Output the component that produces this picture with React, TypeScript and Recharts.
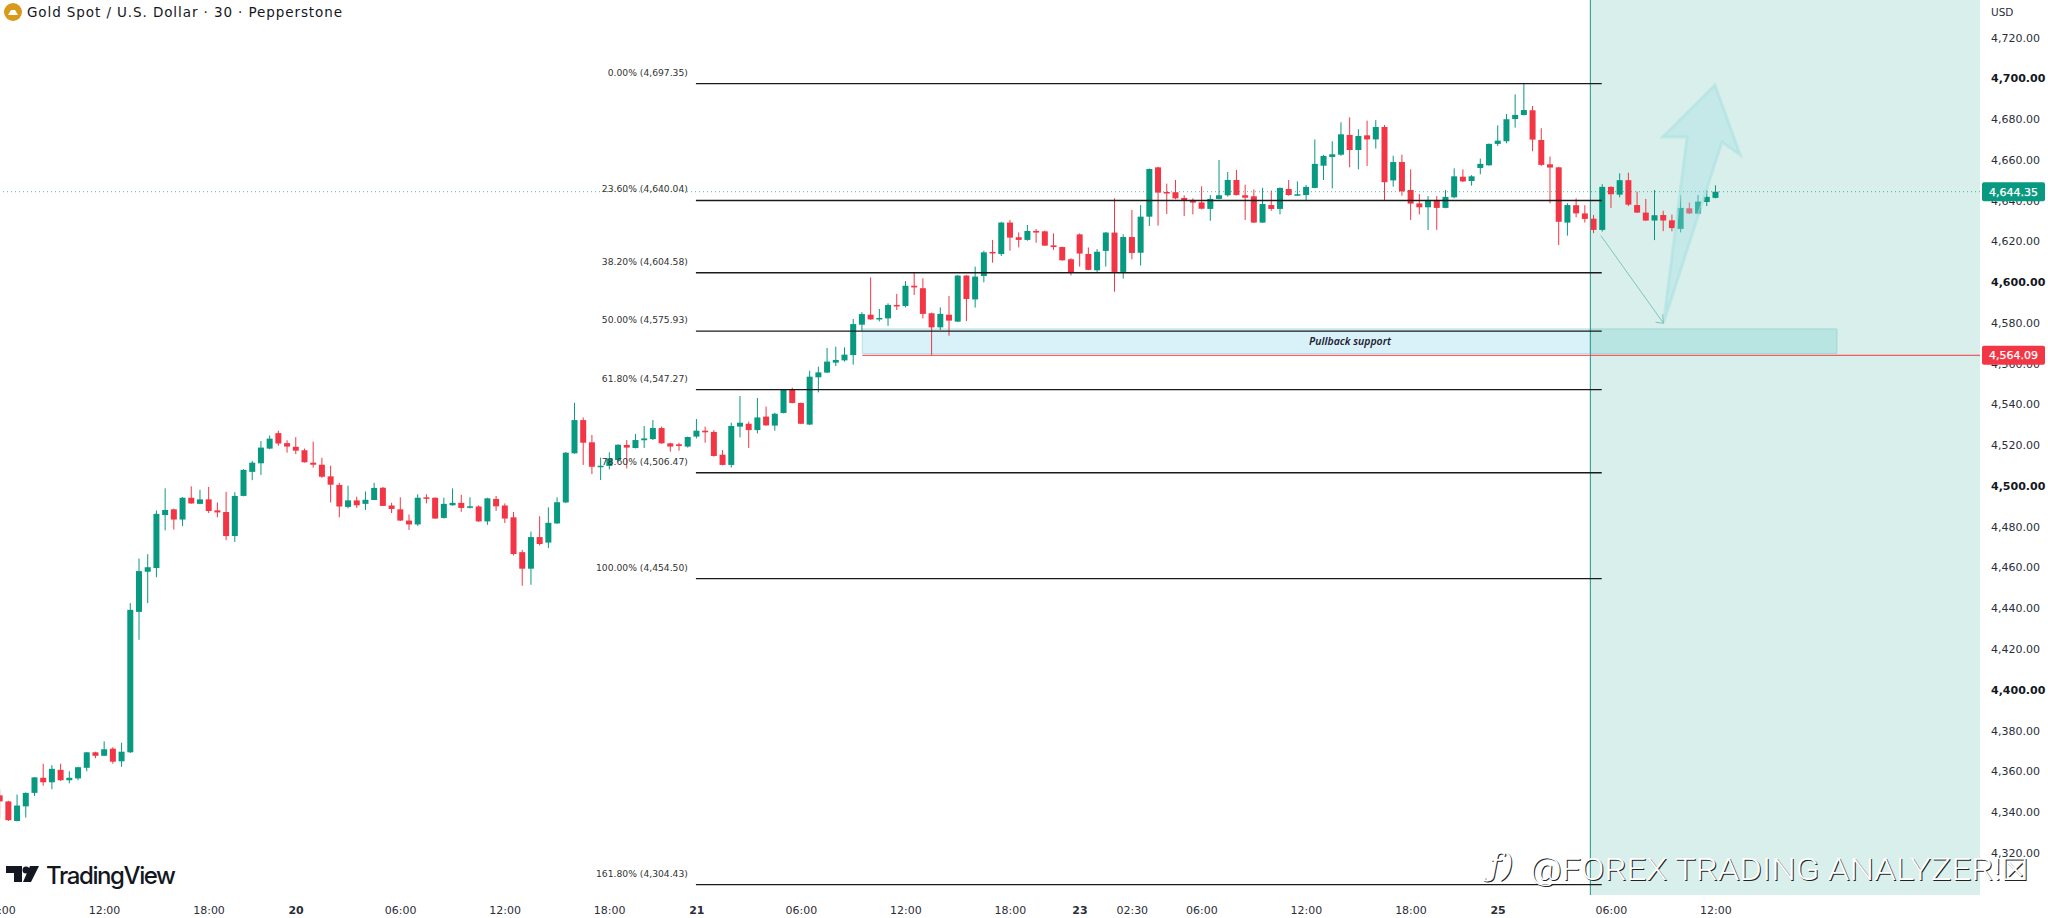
import {
  Bar,
  ComposedChart,
  ReferenceArea,
  ReferenceDot,
  ReferenceLine,
  XAxis,
  YAxis,
} from "recharts";

const opens = [
  4348.2, 4345.2, 4335.6, 4342.8, 4349.4, 4356.8, 4354.6, 4360.7, 4355.6, 4356.5,
  4361.7, 4369.3, 4367.6, 4371.1, 4364.9, 4369.3, 4438.2, 4457.9, 4459.7, 4485.7,
  4488.5, 4483.5, 4494.2, 4491.2, 4493.4, 4488, 4487.2, 4475.4, 4495.1, 4506.9,
  4511.1, 4518.3, 4525.9, 4521, 4519.2, 4517.5, 4511.4, 4510.4, 4504.7, 4500.5,
  4489.7, 4492.9, 4491.2, 4493.1, 4499.1, 4490.4, 4488.5, 4483, 4481.1, 4494.4,
  4494.2, 4484.3, 4490.5, 4491.7, 4489.5, 4489.9, 4482.6, 4493.6, 4490.4, 4484.6,
  4467.5, 4459.4, 4474.9, 4472.2, 4481.6, 4491.9, 4516, 4532.3, 4521.4, 4509.4,
  4509.8, 4512.7, 4520.1, 4518.6, 4522.4, 4523, 4528.4, 4520.9, 4520.4, 4519.3,
  4524.2, 4527.1, 4526.5, 4515.3, 4510.3, 4529.1, 4530.5, 4527.4, 4534, 4529.6,
  4535.8, 4547.2, 4540.7, 4530.1, 4553.3, 4555.6, 4560.5, 4561.6, 4564.2, 4579.1,
  4584, 4581.7, 4582.2, 4588.8, 4588.3, 4598.2, 4597, 4584.7, 4577.8, 4584,
  4580.6, 4603.2, 4591.5, 4603, 4614.8, 4613.8, 4629.2, 4622, 4620.7, 4625.1,
  4624.9, 4618, 4617.2, 4611.2, 4623.4, 4613.8, 4605.8, 4615.3, 4624.3, 4605,
  4622.1, 4614.4, 4632.1, 4656.3, 4644.2, 4644.1, 4641.3, 4640.3, 4639.1, 4635.9,
  4640.8, 4642.6, 4650.1, 4642.6, 4642.1, 4629.2, 4637.8, 4635.9, 4645.7, 4642.7,
  4642.7, 4646.2, 4657.1, 4661.4, 4662.5, 4672.2, 4664.8, 4672, 4670, 4676.1,
  4649.9, 4658.9, 4645.2, 4638.6, 4636.7, 4640.3, 4636.4, 4641.6, 4651.7, 4649.6,
  4656, 4657.3, 4667.8, 4669.1, 4680, 4682, 4684.3, 4669.7, 4657.8, 4656.3,
  4629.2, 4637.7, 4633.7, 4631.1, 4625.6, 4646.7, 4642.9, 4650, 4637.8, 4634.1,
  4630.2, 4632.9, 4630.3, 4626.1, 4636.2, 4633.6, 4639.3, 4641.3,
];

const highs = [
  4351.2, 4345.5, 4348.6, 4349.6, 4357.2, 4363.7, 4363, 4363.7, 4360, 4362.2,
  4369.5, 4369.6, 4374.7, 4371.8, 4374, 4442.5, 4464.4, 4466.5, 4488, 4498.8,
  4488.9, 4494.5, 4499.8, 4498.1, 4499.5, 4491.9, 4497.1, 4496.9, 4508.2, 4512.3,
  4522, 4524.7, 4527.1, 4522.4, 4523.9, 4518.3, 4521.7, 4513.8, 4509.9, 4501.5,
  4500.1, 4494.7, 4497.3, 4501.5, 4499.5, 4491.7, 4494.4, 4486, 4495.9, 4495.9,
  4494.4, 4494.2, 4498.8, 4495.6, 4494.4, 4490.5, 4494.2, 4495.1, 4491.4, 4487.2,
  4468.6, 4477.6, 4485.1, 4489.5, 4494.4, 4516.6, 4540.8, 4533.6, 4525, 4513.9,
  4516.5, 4520.4, 4522.5, 4525.5, 4529.4, 4532.3, 4529.1, 4521.2, 4521.2, 4524.2,
  4532.8, 4529.1, 4527.4, 4517.6, 4531, 4544.1, 4531.5, 4543.1, 4538.9, 4535.9,
  4547.4, 4548.2, 4540.9, 4556.5, 4558.5, 4567.7, 4568.3, 4568, 4581.9, 4585.2,
  4602.3, 4586.8, 4589.6, 4594.2, 4600.5, 4604.8, 4601.8, 4585, 4587.6, 4593.2,
  4603.4, 4603.5, 4607.6, 4615.4, 4620.7, 4629.6, 4630.5, 4624.4, 4628, 4626,
  4625.3, 4623.9, 4617.4, 4611.7, 4623.9, 4617, 4616.2, 4624.6, 4641.1, 4623.4,
  4635.4, 4637.8, 4655.7, 4656.6, 4648.3, 4650.1, 4642.6, 4641.1, 4647, 4642.7,
  4659.9, 4654, 4655, 4647.8, 4645.5, 4646.3, 4644.9, 4646.4, 4650.1, 4649.4,
  4647.6, 4670, 4662.4, 4669.1, 4678.4, 4680.8, 4675, 4679.2, 4679.5, 4677.1,
  4662, 4662.5, 4655.3, 4643.2, 4642.2, 4642.2, 4645.2, 4655.8, 4655.3, 4652.5,
  4660.6, 4668, 4676.9, 4682.5, 4692.1, 4697.2, 4686.4, 4675.5, 4661.6, 4656.6,
  4638.7, 4641.1, 4637.7, 4632.9, 4648, 4647, 4653.4, 4653.7, 4644.4, 4640.8,
  4645.2, 4635, 4633.1, 4642.7, 4639, 4642.7, 4645.2, 4647.5,
];

const lows = [
  4336.8, 4335.6, 4335.4, 4337.3, 4347.9, 4352.9, 4351.2, 4355.3, 4354.1, 4355.6,
  4360, 4366.4, 4367.4, 4363.7, 4362.2, 4369, 4424.5, 4442.5, 4455.2, 4478.2,
  4478.6, 4480.3, 4491.2, 4491, 4486.7, 4484.6, 4473.4, 4472.5, 4494.9, 4502.8,
  4505.4, 4518, 4519.7, 4516.3, 4515.6, 4511.4, 4509, 4504, 4491.9, 4484.6,
  4489, 4489.2, 4488.2, 4493, 4490.1, 4486.7, 4482.8, 4478.4, 4480.4, 4491.4,
  4483.8, 4484, 4490.3, 4487.3, 4488.9, 4482.4, 4480.9, 4487.7, 4481.8, 4465.9,
  4451, 4451.5, 4470.8, 4469.5, 4481.4, 4491.6, 4515.8, 4510.3, 4505.8, 4502.9,
  4508.1, 4512.5, 4508.6, 4518.4, 4518.6, 4522.5, 4520.7, 4516.8, 4517.3, 4518.8,
  4523.3, 4521.2, 4514.4, 4510.1, 4509, 4523.8, 4518.6, 4525.8, 4529.5, 4527.1,
  4535.6, 4540.5, 4530.3, 4529.9, 4545.9, 4555.4, 4558.8, 4561, 4559.5, 4576.2,
  4581.5, 4580.7, 4578.5, 4586.3, 4587.6, 4593.7, 4582.2, 4564.2, 4576.5, 4573.7,
  4580.4, 4580.9, 4587.5, 4599.9, 4609.5, 4612.8, 4615.4, 4617, 4620.3, 4619.3,
  4617.7, 4615.8, 4610.5, 4603.3, 4607.6, 4605.8, 4605, 4607.6, 4595.3, 4601.7,
  4611.2, 4608.1, 4627.5, 4627.7, 4633.4, 4640.6, 4632.4, 4633.2, 4635.7, 4630.1,
  4640.6, 4641.9, 4642.5, 4630.5, 4629, 4629, 4635, 4633.2, 4642.4, 4642.4,
  4640, 4646, 4650.1, 4646, 4661.9, 4656.3, 4655.3, 4657, 4665.5, 4640,
  4646.8, 4642.4, 4630.5, 4633.2, 4625.6, 4625.6, 4636.2, 4641.1, 4649.1, 4647.3,
  4652.9, 4657.1, 4666.8, 4668.1, 4675.8, 4681.8, 4664.2, 4657, 4638.7, 4618.2,
  4622.8, 4631.8, 4629.2, 4624, 4624.8, 4636.4, 4641.6, 4637.3, 4633.9, 4630,
  4620.6, 4625, 4624.9, 4624.4, 4633.4, 4633.2, 4637.3, 4641.1,
];

const closes = [
  4345.2, 4336, 4343.2, 4349.4, 4357, 4354.6, 4361.2, 4355.6, 4356.8, 4362,
  4369.3, 4367.6, 4370.8, 4364.7, 4369.6, 4439.2, 4458.2, 4460.1, 4486.3, 4488.2,
  4483.5, 4494.2, 4491.4, 4493.4, 4487.7, 4487, 4475.4, 4495.1, 4507.9, 4511.4,
  4518.8, 4523.2, 4520.8, 4519.3, 4517.3, 4511.6, 4510.4, 4504.5, 4500.6, 4489.9,
  4492.9, 4490.5, 4493.2, 4499, 4490.2, 4488.7, 4483, 4481.1, 4494.2, 4493.9,
  4484, 4491.2, 4491.7, 4489.2, 4490, 4482.6, 4493.9, 4490, 4484, 4466.6,
  4459.4, 4474.9, 4471.5, 4481.9, 4492, 4516.3, 4532.3, 4521.2, 4509.4, 4509.9,
  4513.5, 4520.2, 4518.8, 4522.5, 4523.3, 4528.4, 4520.9, 4519.3, 4519.6, 4524,
  4527.1, 4526.3, 4514.7, 4510.3, 4529.4, 4531, 4527.4, 4533.6, 4529.7, 4535.4,
  4547.2, 4540.7, 4530.5, 4553.6, 4555.7, 4561, 4561.8, 4564.4, 4579.4, 4584.3,
  4581.7, 4582.4, 4588.8, 4588.3, 4598.2, 4597.4, 4584.4, 4577.8, 4584.4, 4581.1,
  4603.2, 4591.7, 4602.7, 4614.6, 4614.1, 4629.2, 4621.8, 4620.7, 4625.1, 4624.3,
  4617.9, 4617.2, 4610.7, 4604.6, 4614, 4606, 4614.9, 4624.3, 4605, 4622.1,
  4614.3, 4632.1, 4655.5, 4643.9, 4643.7, 4641.1, 4640.1, 4639, 4636, 4640.8,
  4642.6, 4650.1, 4642.7, 4641.4, 4629.2, 4638.3, 4635.9, 4646.2, 4642.7, 4643.1,
  4646.7, 4658, 4661.9, 4662.7, 4672.5, 4664.8, 4671.7, 4670, 4676.1, 4649,
  4658.9, 4644.5, 4638.5, 4636.7, 4640.3, 4636.4, 4641.8, 4651.9, 4649.4, 4651.9,
  4658, 4667.8, 4669.4, 4679.9, 4682, 4684.4, 4669.9, 4657.5, 4656.2, 4629.6,
  4637.8, 4633.7, 4631, 4625.6, 4646.7, 4643.1, 4650, 4638, 4634.1, 4630.2,
  4632.8, 4630.2, 4626.5, 4636.4, 4633.7, 4639.5, 4641.8, 4644.35,
];

const xTickIndex = [0, 12, 24, 34, 46, 58, 70, 80, 92, 104, 116, 124, 130, 138, 150, 162, 172, 185, 197];
const xTickLabels = [
  "06:00", "12:00", "18:00", "20", "06:00", "12:00", "18:00", "21", "06:00", "12:00",
  "18:00", "23", "02:30", "06:00", "12:00", "18:00", "25", "06:00", "12:00",
];

const priceTicks = [
  4320, 4340, 4360, 4380, 4400, 4420, 4440, 4460, 4480, 4500, 4520,
  4540, 4560, 4580, 4600, 4620, 4640, 4660, 4680, 4700, 4720,
];
const boldPrices = [4400, 4500, 4600, 4700];

const fibLevels = [4697.35, 4640.04, 4604.58, 4575.93, 4547.27, 4506.47, 4454.5, 4304.43];
const fibLabels = [
  "0.00% (4,697.35)", "23.60% (4,640.04)", "38.20% (4,604.58)", "50.00% (4,575.93)",
  "61.80% (4,547.27)", "78.60% (4,506.47)", "100.00% (4,454.50)", "161.80% (4,304.43)",
];

const lastPrice = 4644.35;
const supportPrice = 4564.09;

// [slot, price]
const thinArrow = [[183.8, 4622.8], [191, 4579.8]];
const bigArrow = [
  [191, 4580], [193.7, 4671.2], [190.9, 4671.2], [196.9, 4696.7], [199.8, 4662.4], [197.7, 4668.7],
];

const WIDTH = 2048;
const HEIGHT = 918;
const PLOT_W = 1980;
const PLOT_H = 895;
const SLOT_MAX = 227.33;
const PRICE_MIN = 4299.3;
const PRICE_MAX = 4738.4;
const SLOT_PX = PLOT_W / SLOT_MAX;
const PRICE_PX = PLOT_H / (PRICE_MAX - PRICE_MIN);

const GREEN = "#089981";
const RED = "#f23645";
const FONT = '"DejaVu Sans", sans-serif';

const rows = opens.map((open, i) => ({
  i,
  open,
  high: highs[i],
  low: lows[i],
  close: closes[i],
  range: [lows[i], highs[i]],
}));

const Candle = (props: any) => {
  const { x, y, width, height, payload } = props;
  const { open, high, low, close } = payload;
  const k = height / (high - low);
  const color = close >= open ? GREEN : RED;
  const top = y + (high - Math.max(open, close)) * k;
  const bodyH = Math.max(1.5, Math.abs(open - close) * k);
  const cx = x + width / 2;
  return (
    <g>
      <line x1={cx} x2={cx} y1={y} y2={y + height} stroke={color} strokeWidth={1} />
      <rect x={cx - 3} y={top} width={6} height={bodyH} fill={color} />
    </g>
  );
};

const PriceTick = ({ y, payload }: any) => (
  <text
    x={1991}
    y={y + 4}
    fontFamily={FONT}
    fontSize={11}
    fontWeight={boldPrices.includes(payload.value) ? 700 : 400}
    fill={boldPrices.includes(payload.value) ? "#131722" : "#2a2e39"}
  >
    {payload.value.toLocaleString("en-US", { minimumFractionDigits: 2 })}
  </text>
);

const TimeTick = ({ x, y, payload }: any) => {
  const label = xTickLabels[xTickIndex.indexOf(payload.value)];
  return (
    <text
      x={x}
      y={y + 11}
      textAnchor="middle"
      fontFamily={FONT}
      fontSize={11}
      fontWeight={label.length < 3 ? 700 : 400}
      fill="#2a2e39"
    >
      {label}
    </text>
  );
};

// Axis labels for the live prices, they sit on top of the price scale
const PriceBadge = ({ price, fill, text }: any) => {
  const cy = (PRICE_MAX - price) * PRICE_PX;
  return (
    <g>
      <rect x={1982} y={cy - 9.5} width={63} height={19} rx={2} fill={fill} />
      <text
        x={2013.5}
        y={cy + 4}
        textAnchor="middle"
        fontFamily={FONT}
        fontSize={11}
        fill="#fff"
        stroke="#fff"
        strokeWidth={0.25}
      >
        {text}
      </text>
    </g>
  );
};

const offset = (pt: number[], cx: number, cy: number, from: number[]) => [
  cx + (pt[0] - from[0]) * SLOT_PX,
  cy - (pt[1] - from[1]) * PRICE_PX,
];

const BigArrow = ({ cx, cy }: any) => (
  <polygon
    points={bigArrow.map((p) => offset(p, cx, cy, bigArrow[0]).join(",")).join(" ")}
    fill="#9fdfe3"
    fillOpacity={0.35}
    stroke="#a9e0e2"
    strokeOpacity={0.55}
    strokeWidth={3}
  />
);

const ThinArrow = ({ cx, cy }: any) => {
  const [ex, ey] = offset(thinArrow[1], cx, cy, thinArrow[0]);
  return (
    <g fill="none" stroke="#7fc4bd" strokeWidth={1}>
      <line x1={cx} y1={cy} x2={ex} y2={ey} />
      <polyline points={`${ex - 8},${ey - 1} ${ex},${ey} ${ex - 1},${ey - 9}`} />
    </g>
  );
};

const Watermark = () => {
  const draw = (dx: number, fill: string) => (
    <g fill={fill} transform={`translate(${dx},${dx})`}>
      <text x={1489} y={876} fontFamily='"DejaVu Serif", serif' fontStyle="italic" fontSize={32}>
        ƒ)
      </text>
      <text
        x={1530}
        y={880}
        fontFamily="Roboto, sans-serif"
        fontWeight={300}
        fontSize={32}
        textLength={471}
        lengthAdjust="spacingAndGlyphs"
      >
        @FOREX TRADING ANALYZER!
      </text>
      <text x={2001} y={880} fontFamily={FONT} fontSize={30}>
        ☒
      </text>
    </g>
  );
  return (
    <>
      {draw(1, "#222")}
      {draw(0, "#fff")}
    </>
  );
};

export default function App() {
  return (
    <div
      style={{
        position: "absolute",
        left: 0,
        top: 0,
        width: WIDTH,
        height: HEIGHT,
        overflow: "hidden",
        background: "#fff",
      }}
    >
      <ComposedChart
        width={WIDTH}
        height={HEIGHT}
        data={rows}
        margin={{ top: 0, right: 0, bottom: 0, left: 0 }}
      >
        <XAxis
          dataKey="i"
          type="number"
          domain={[0, SLOT_MAX]}
          allowDataOverflow
          ticks={xTickIndex}
          interval={0}
          height={23}
          axisLine={false}
          tickLine={false}
          tick={<TimeTick />}
        />
        <YAxis
          orientation="right"
          domain={[PRICE_MIN, PRICE_MAX]}
          allowDataOverflow
          ticks={priceTicks}
          interval={0}
          width={68}
          axisLine={false}
          tickLine={false}
          tick={<PriceTick />}
        />

        <ReferenceArea x1={182.6} x2={SLOT_MAX} fill="#d9efeb" fillOpacity={1} stroke="none" />
        <ReferenceLine x={182.6} stroke="#3fa39b" strokeWidth={1.2} />
        <ReferenceArea
          x1={99}
          x2={182.6}
          y1={4565}
          y2={4577}
          fill="#d9f2fa"
          fillOpacity={1}
          stroke="#b5e0e6"
        />
        <ReferenceArea
          x1={182.6}
          x2={210.9}
          y1={4565}
          y2={4577}
          fill="#b8e5e1"
          fillOpacity={1}
          stroke="#9fd8d3"
        />

        {fibLevels.map((level) => (
          <ReferenceLine
            key={level}
            segment={[
              { x: 79.9, y: level },
              { x: 183.9, y: level },
            ]}
            stroke="#1a1a1a"
            strokeWidth={1.3}
            ifOverflow="visible"
          />
        ))}
        {fibLevels.map((level, idx) => (
          <ReferenceDot
            key={fibLabels[idx]}
            x={79.9}
            y={level}
            r={0}
            ifOverflow="visible"
            shape={({ cx, cy }: any) => (
              <text
                x={cx - 8}
                y={cy - 8}
                textAnchor="end"
                fontFamily={FONT}
                fontSize={9.2}
                fill="#333"
              >
                {fibLabels[idx]}
              </text>
            )}
          />
        ))}

        <ReferenceLine y={lastPrice} stroke={GREEN} strokeWidth={1} strokeDasharray="1 3" strokeOpacity={0.7} />
        <ReferenceLine
          segment={[
            { x: 99, y: supportPrice },
            { x: SLOT_MAX, y: supportPrice },
          ]}
          stroke={RED}
          strokeWidth={1}
        />

        <Bar dataKey="range" barSize={6} shape={<Candle />} isAnimationActive={false} />

        <ReferenceDot x={bigArrow[0][0]} y={bigArrow[0][1]} r={0} ifOverflow="visible" shape={<BigArrow />} />
        <ReferenceDot x={thinArrow[0][0]} y={thinArrow[0][1]} r={0} ifOverflow="visible" shape={<ThinArrow />} />
        <ReferenceDot
          x={155}
          y={4571}
          r={0}
          ifOverflow="visible"
          shape={({ cx, cy }: any) => (
            <text
              x={cx}
              y={cy + 4}
              textAnchor="middle"
              fontFamily='"Noto Sans", sans-serif'
              fontStyle="italic"
              fontWeight={600}
              fontSize={10.5}
              fill="#1c2030"
            >
              Pullback support
            </text>
          )}
        />
      </ComposedChart>

      <svg width={WIDTH} height={HEIGHT} style={{ position: "absolute", left: 0, top: 0 }}>
        <PriceBadge price={lastPrice} fill={GREEN} text="4,644.35" />
        <PriceBadge price={supportPrice} fill={RED} text="4,564.09" />
        <circle cx={13} cy={12} r={9} fill="#d99a1c" />
        <path d="M8 15 L11 10 H15 L18 15 Z" fill="#fff" />
        <text x={27} y={17} fontFamily={FONT} fontSize={13.5} fill="#131722" textLength={315}>
          Gold Spot / U.S. Dollar · 30 · Pepperstone
        </text>
        <text x={1991} y={16} fontFamily={FONT} fontSize={10.5} fill="#2a2e39">
          USD
        </text>
        <path d="M6 866 H22 V882 H14 V873 H6 Z" fill="#131722" />
        <circle cx={26} cy={870} r={3.5} fill="#131722" />
        <path d="M30 866 H39 L31 882 H23 Z" fill="#131722" />
        <text x={46} y={884} fontFamily="Inter, sans-serif" fontWeight={500} fontSize={24} fill="#131722" textLength={130}>
          TradingView
        </text>
        <Watermark />
      </svg>
    </div>
  );
}
